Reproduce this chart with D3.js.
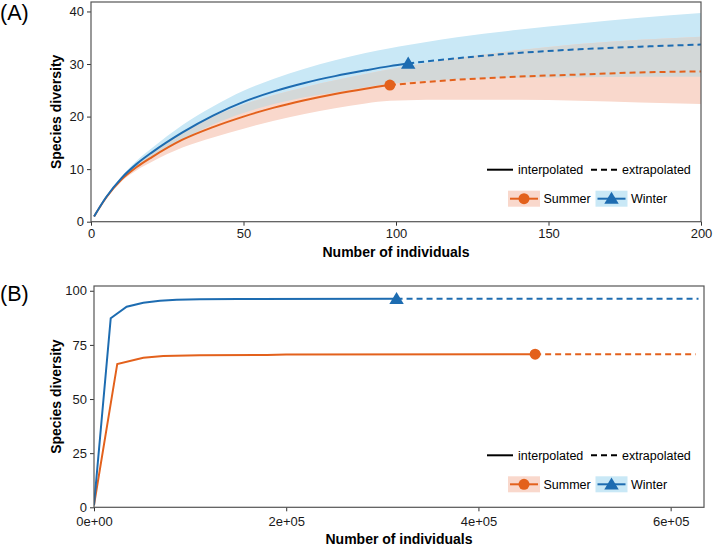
<!DOCTYPE html>
<html>
<head>
<meta charset="utf-8">
<script src="https://d3js.org/d3.v7.min.js"></script>
<style>
  html, body { margin: 0; padding: 0; background: #fff; }
  svg { display: block; font-family: "Liberation Sans", Arial, Helvetica, sans-serif; }
</style>
</head>
<body>
<div id="chart"></div>
<script>
// ---- Panel A: rarefaction / extrapolation, small sample sizes ----
const sizesA = [1, 5, 10, 15, 20, 30, 40, 50, 60, 70, 80, 90, 98, 104, 110, 120, 140, 160, 180, 200];
const summerA   = [1, 4.6, 8.0, 10.4, 12.3, 15.6, 18.0, 20.0, 21.7, 23.1, 24.3, 25.3, 26.0, 26.3, 26.6, 27.0, 27.6, 28.0, 28.4, 28.6];
const summerLoA = [1, 4.5, 7.7, 9.8, 11.4, 14.1, 16.0, 17.7, 19.2, 20.5, 21.6, 22.5, 23.0, 23.1, 23.2, 23.2, 23.2, 23.0, 22.7, 22.4];
const summerHiA = [1, 4.7, 8.3, 11.0, 13.2, 17.1, 20.0, 22.3, 24.1, 25.6, 26.9, 28.1, 29.0, 29.6, 30.2, 31.1, 32.6, 33.8, 34.6, 35.2];
const winterA   = [1, 4.7, 8.3, 11.0, 13.2, 17.0, 20.2, 22.8, 24.8, 26.4, 27.7, 28.8, 29.6, 30.1, 30.5, 31.1, 32.1, 32.8, 33.3, 33.7];
const winterLoA = [1, 4.6, 8.0, 10.4, 12.4, 15.6, 18.5, 20.7, 22.4, 23.7, 24.6, 25.6, 26.2, 26.6, 26.8, 27.1, 27.4, 27.5, 27.6, 27.6];
const winterHiA = [1, 4.8, 8.6, 11.6, 14.0, 18.4, 21.9, 24.9, 27.2, 29.1, 30.7, 32.1, 33.0, 33.6, 34.2, 35.1, 36.5, 37.7, 38.8, 39.7];
const summerObsA = 98;   // reference sample size (end of interpolation)
const winterObsA = 104;

// ---- Panel B: large sample sizes ----
const summerSizesB = [1, 24200, 51300, 72000, 110000, 180000, 200000, 459000, 626000];
const summerB      = [1, 66.2, 69.1, 69.9, 70.2, 70.3, 70.6, 70.7, 70.7];
const winterSizesB = [1, 17400, 34000, 51300, 68600, 86000, 110000, 150000, 314800, 629000];
const winterB      = [1, 87.3, 92.6, 94.5, 95.4, 95.9, 96.1, 96.2, 96.3, 96.3];
const summerObsB = 459000;
const winterObsB = 314800;

const ticksAx = [0, 50, 100, 150, 200];
const ticksAy = [0, 10, 20, 30, 40];
const ticksBx = [0, 2e5, 4e5, 6e5];
const ticksBx_labels = ["0e+00", "2e+05", "4e+05", "6e+05"];
const ticksBy = [0, 25, 50, 75, 100];

const seasons = ["Summer", "Winter"];
const lineColor = { Summer: "#e3611c", Winter: "#1d6cb1" };
const bandColor = { Summer: "#f9d8cc", Winter: "#c9e8f6" };
const overlapColor = "#d3d8d8";

const W = 716, H = 545;
const svg = d3.select("#chart").append("svg").attr("width", W).attr("height", H);

function zip(xs, ys) { return xs.map((x, i) => ({ x, y: ys[i] })); }

function drawMarker(g, season, cx, cy, r) {
    if (season === "Summer") {
        g.append("circle").attr("cx", cx).attr("cy", cy).attr("r", r)
            .attr("fill", lineColor.Summer);
    } else {
        const s = r * 1.25;
        g.append("path")
            .attr("d", `M${cx},${cy - s} L${cx + s * 1.05},${cy + s * 0.75} L${cx - s * 1.05},${cy + s * 0.75} Z`)
            .attr("fill", lineColor.Winter);
    }
}

function drawPanel(cfg) {
    const { x, y, id } = cfg;
    const [x0, x1] = x.range();
    const [y0, y1] = y.range(); // y0 = bottom, y1 = top
    const curve = cfg.smooth ? d3.curveMonotoneX : d3.curveLinear;
    const g = svg.append("g");

    g.append("clipPath").attr("id", id).append("rect")
        .attr("x", x0).attr("y", y1).attr("width", x1 - x0).attr("height", y0 - y1);
    const plot = g.append("g").attr("clip-path", `url(#${id})`);

    // confidence bands
    if (cfg.bands) {
        const area = d3.area().curve(curve).x(d => x(d.x)).y0(d => y(d.lo)).y1(d => y(d.hi));
        const b = cfg.bands;
        const winterBand = b.sizes.map((s, i) => ({ x: s, lo: b.winterLo[i], hi: b.winterHi[i] }));
        const summerBand = b.sizes.map((s, i) => ({ x: s, lo: b.summerLo[i], hi: b.summerHi[i] }));
        const overlap = b.sizes.map((s, i) => ({
            x: s,
            lo: Math.max(b.winterLo[i], b.summerLo[i]),
            hi: Math.min(b.winterHi[i], b.summerHi[i])
        }));
        plot.append("path").datum(winterBand).attr("d", area).attr("fill", bandColor.Winter);
        plot.append("path").datum(summerBand).attr("d", area).attr("fill", bandColor.Summer);
        plot.append("path").datum(overlap)
            .attr("d", area.defined(d => d.hi > d.lo)).attr("fill", overlapColor);
    }

    const line = d3.line().curve(curve).x(d => x(d.x)).y(d => y(d.y));
    cfg.series.forEach(s => {
        const pts = s.points;
        const inter = pts.filter(p => p.x <= s.obs);
        const extra = pts.filter(p => p.x >= s.obs);
        plot.append("path").datum(inter).attr("d", line)
            .attr("fill", "none").attr("stroke", lineColor[s.name]).attr("stroke-width", 2);
        plot.append("path").datum(extra).attr("d", line)
            .attr("fill", "none").attr("stroke", lineColor[s.name]).attr("stroke-width", 2)
            .attr("stroke-dasharray", "6,4");
    });
    cfg.series.forEach(s => {
        const p = s.points.find(p => p.x === s.obs);
        drawMarker(plot, s.name, x(p.x), y(p.y), 5.5);
    });

    // axes
    const xAxis = d3.axisBottom(x).tickValues(cfg.xTicks).tickSize(4).tickPadding(cfg.xPad);
    if (cfg.xLabels) xAxis.tickFormat((d, i) => cfg.xLabels[i]);
    const yAxis = d3.axisLeft(y).tickValues(cfg.yTicks).tickSize(4).tickPadding(3);

    const gx = g.append("g").attr("transform", `translate(0,${y0})`).call(xAxis);
    const gy = g.append("g").attr("transform", `translate(${x0},0)`).call(yAxis);
    [gx, gy].forEach(a => {
        a.select(".domain").remove();
        a.selectAll(".tick line").attr("stroke", "#333").attr("stroke-width", 1);
        a.selectAll(".tick text").attr("fill", "#1a1a1a")
            .style("font-size", "13px").style("font-family", '"Liberation Sans", Arial, sans-serif');
    });

    // panel border
    g.append("rect").attr("x", x0).attr("y", y1).attr("width", x1 - x0).attr("height", y0 - y1)
        .attr("fill", "none").attr("stroke", "#555").attr("stroke-width", 1.2);

    // titles
    g.append("text").attr("x", (x0 + x1) / 2).attr("y", cfg.xTitleY)
        .attr("text-anchor", "middle").attr("font-weight", "bold").attr("font-size", 14)
        .attr("fill", "#000").text("Number of individuals");
    g.append("text")
        .attr("transform", `translate(61,${(y0 + y1) / 2}) rotate(-90)`)
        .attr("text-anchor", "middle").attr("font-weight", "bold").attr("font-size", 14)
        .attr("fill", "#000").text("Species diversity");
    g.append("text").attr("x", 0).attr("y", cfg.tagY)
        .attr("font-size", 21.5).attr("fill", "#000").text(cfg.tag);

    // legend
    const r1 = y0 - 52, r2 = y0 - 23;
    const lg = g.append("g");
    lg.append("line").attr("x1", 487).attr("x2", 513).attr("y1", r1).attr("y2", r1)
        .attr("stroke", "#000").attr("stroke-width", 2);
    lg.append("text").attr("x", 518).attr("y", r1 + 4.5).attr("font-size", 12.5).text("interpolated");
    lg.append("line").attr("x1", 591).attr("x2", 617).attr("y1", r1).attr("y2", r1)
        .attr("stroke", "#000").attr("stroke-width", 2).attr("stroke-dasharray", "6,4");
    lg.append("text").attr("x", 622).attr("y", r1 + 4.5).attr("font-size", 12.5).text("extrapolated");

    const keys = [{ name: "Summer", x: 508 }, { name: "Winter", x: 595.5 }];
    keys.forEach(k => {
        lg.append("rect").attr("x", k.x).attr("y", r2 - 8).attr("width", 32).attr("height", 16)
            .attr("fill", bandColor[k.name]);
        lg.append("line").attr("x1", k.x + 2).attr("x2", k.x + 30).attr("y1", r2).attr("y2", r2)
            .attr("stroke", lineColor[k.name]).attr("stroke-width", 2);
        drawMarker(lg, k.name, k.x + 16, r2, 5.5);
        lg.append("text").attr("x", k.x + 35.5).attr("y", r2 + 4.5).attr("font-size", 12.5).text(k.name);
    });
}

drawPanel({
    id: "clipA",
    tag: "(A)", tagY: 19.5,
    smooth: true,
    x: d3.scaleLinear().domain([0, 200]).range([91, 701]),
    y: d3.scaleLinear().domain([0, 41.8]).range([221.7, 2]),
    xTicks: ticksAx, yTicks: ticksAy, xPad: 3,
    xTitleY: 257,
    bands: { sizes: sizesA, summerLo: summerLoA, summerHi: summerHiA, winterLo: winterLoA, winterHi: winterHiA },
    series: [
        { name: "Summer", obs: summerObsA, points: zip(sizesA, summerA) },
        { name: "Winter", obs: winterObsA, points: zip(sizesA, winterA) }
    ]
});

drawPanel({
    id: "clipB",
    tag: "(B)", tagY: 300.5,
    smooth: false,
    x: d3.scaleLinear().domain([0, 634700]).range([94, 704]),
    y: d3.scaleLinear().domain([0, 102.2]).range([507.3, 286]),
    xTicks: ticksBx, xLabels: ticksBx_labels, yTicks: ticksBy, xPad: 5.5,
    xTitleY: 543.5,
    series: [
        { name: "Summer", obs: summerObsB, points: zip(summerSizesB, summerB) },
        { name: "Winter", obs: winterObsB, points: zip(winterSizesB, winterB) }
    ]
});
</script>
</body>
</html>
